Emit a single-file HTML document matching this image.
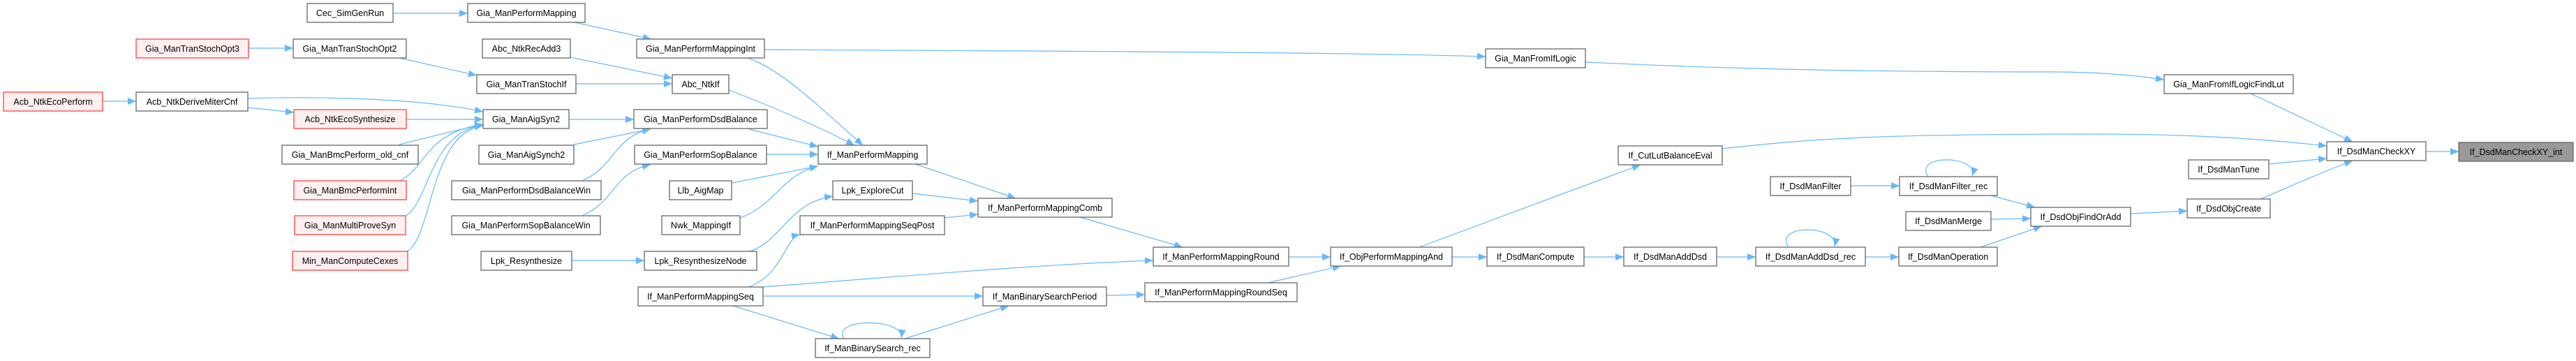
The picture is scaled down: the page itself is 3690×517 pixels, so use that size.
<!DOCTYPE html>
<html><head><meta charset="utf-8"><style>
html,body{margin:0;padding:0;background:#fff;}
svg{display:block;}
text{font-family:"Liberation Sans",Arial,sans-serif;font-size:12.5px;fill:#000;}
.n{fill:#fff;stroke:#666;stroke-width:1.3;}
.r{fill:#fff0f0;stroke:#ff4040;stroke-width:1.3;}
.g{fill:#999;stroke:#666;stroke-width:1.3;}
.e{fill:none;stroke:#63b8ff;stroke-width:1.2;marker-end:url(#a);}
</style></head><body>
<svg width="3690" height="517" viewBox="0 0 3690 517" xmlns="http://www.w3.org/2000/svg">
<defs><marker id="a" markerUnits="userSpaceOnUse" markerWidth="12" markerHeight="10" refX="12" refY="5" orient="auto"><path d="M0,0 L12,5 L0,10 z" fill="#63b8ff"/></marker></defs>
<g>
<path class="e" d="M563,19 L670,19"/>
<path class="e" d="M356,69 L420,69"/>
<path class="e" d="M572,83 L683,108"/>
<path class="e" d="M147,145 L195,145"/>
<path class="e" d="M355,154 L421,161"/>
<path class="e" d="M355,141 C450,138 600,140 692,160"/>
<path class="e" d="M582,171 L692,171"/>
<path class="e" d="M572,207 C620,195 660,185 692,178"/>
<path class="e" d="M574,258 C610,240 610,190 692,178"/>
<path class="e" d="M581,309 C615,290 615,190 692,179"/>
<path class="e" d="M583,360 C620,340 615,190 692,180"/>
<path class="e" d="M823,32 L933,56"/>
<path class="e" d="M817,82 L963,112"/>
<path class="e" d="M825,120 L963,120"/>
<path class="e" d="M815,171 L908,171"/>
<path class="e" d="M822,207 L932,185"/>
<path class="e" d="M835,258 C880,240 880,195 932,185"/>
<path class="e" d="M835,308 C880,290 880,245 932,236"/>
<path class="e" d="M1071,83 C1120,100 1170,150 1236,208"/>
<path class="e" d="M1095,71 C1400,73 1900,74 2128,81"/>
<path class="e" d="M1044,129 C1100,150 1170,180 1224,208"/>
<path class="e" d="M1073,185 L1172,210"/>
<path class="e" d="M1098,221 L1172,221"/>
<path class="e" d="M1048,262 L1172,238"/>
<path class="e" d="M1060,312 C1110,295 1120,250 1172,238"/>
<path class="e" d="M1074,360 C1120,345 1130,290 1193,281"/>
<path class="e" d="M819,373 L923,373"/>
<path class="e" d="M1072,411 C1120,395 1125,340 1146,336"/>
<path class="e" d="M1093,411 C1300,395 1500,378 1652,373"/>
<path class="e" d="M1093,424 L1408,424"/>
<path class="e" d="M1050,438 L1202,485"/>
<path class="e" d="M1209,485 C1190,455 1295,455 1291,484"/>
<path class="e" d="M1296,485 L1445,438"/>
<path class="e" d="M1311,235 L1455,284"/>
<path class="e" d="M1307,277 L1401,288"/>
<path class="e" d="M1353,312 L1401,307"/>
<path class="e" d="M1547,311 L1694,354"/>
<path class="e" d="M1585,423 L1640,422"/>
<path class="e" d="M1846,368 L1906,368"/>
<path class="e" d="M1816,405 L1921,381"/>
<path class="e" d="M2033,354 L2350,236"/>
<path class="e" d="M2080,368 L2130,368"/>
<path class="e" d="M2269,368 L2326,368"/>
<path class="e" d="M2459,368 L2515,368"/>
<path class="e" d="M2562,354 C2540,320 2635,322 2628,353"/>
<path class="e" d="M2672,368 L2720,368"/>
<path class="e" d="M2837,354 L2925,324"/>
<path class="e" d="M2852,314 L2909,313"/>
<path class="e" d="M2651,266 L2721,266"/>
<path class="e" d="M2762,253 C2740,220 2835,222 2825,252"/>
<path class="e" d="M2852,280 L2915,297"/>
<path class="e" d="M3052,306 L3133,302"/>
<path class="e" d="M3238,285 C3270,272 3300,257 3370,230"/>
<path class="e" d="M3250,235 L3333,227"/>
<path class="e" d="M2467,213 C2600,198 2700,192 3000,192 C3150,192 3250,200 3333,209"/>
<path class="e" d="M3224,134 L3370,203"/>
<path class="e" d="M2271,89 C2500,100 2700,103 2950,103 C3030,104 3070,110 3100,114"/>
<path class="e" d="M3475,217 L3522,217"/>
</g>
<g text-anchor="middle">
<rect class="n" x="440" y="5" width="123" height="27"/><text x="501.5" y="23">Cec_SimGenRun</text>
<rect class="r" x="195" y="56" width="161" height="27"/><text x="275.5" y="74">Gia_ManTranStochOpt3</text>
<rect class="n" x="420" y="56" width="162" height="27"/><text x="501" y="74">Gia_ManTranStochOpt2</text>
<rect class="r" x="5" y="132" width="142" height="27"/><text x="76" y="150">Acb_NtkEcoPerform</text>
<rect class="n" x="195" y="132" width="160" height="27"/><text x="275" y="150">Acb_NtkDeriveMiterCnf</text>
<rect class="r" x="421" y="157" width="161" height="27"/><text x="501.5" y="175">Acb_NtkEcoSynthesize</text>
<rect class="n" x="404" y="208" width="195" height="27"/><text x="501.5" y="226">Gia_ManBmcPerform_old_cnf</text>
<rect class="r" x="421" y="259" width="161" height="27"/><text x="501.5" y="277">Gia_ManBmcPerformInt</text>
<rect class="r" x="422" y="309" width="159" height="27"/><text x="501.5" y="327">Gia_ManMultiProveSyn</text>
<rect class="r" x="419" y="360" width="165" height="27"/><text x="501.5" y="378">Min_ManComputeCexes</text>

<rect class="n" x="670" y="5" width="168" height="27"/><text x="754" y="23">Gia_ManPerformMapping</text>
<rect class="n" x="691" y="56" width="126" height="27"/><text x="754" y="74">Abc_NtkRecAdd3</text>
<rect class="n" x="683" y="107" width="142" height="27"/><text x="754" y="125">Gia_ManTranStochIf</text>
<rect class="n" x="692" y="157" width="123" height="27"/><text x="753.5" y="175">Gia_ManAigSyn2</text>
<rect class="n" x="686" y="208" width="136" height="27"/><text x="754" y="226">Gia_ManAigSynch2</text>
<rect class="n" x="647" y="259" width="214" height="27"/><text x="754" y="277">Gia_ManPerformDsdBalanceWin</text>
<rect class="n" x="647" y="309" width="213" height="27"/><text x="753.5" y="327">Gia_ManPerformSopBalanceWin</text>
<rect class="n" x="689" y="360" width="130" height="27"/><text x="754" y="378">Lpk_Resynthesize</text>

<rect class="n" x="912" y="56" width="183" height="27"/><text x="1003.5" y="74">Gia_ManPerformMappingInt</text>
<rect class="n" x="963" y="107" width="81" height="27"/><text x="1003.5" y="125">Abc_NtkIf</text>
<rect class="n" x="908" y="157" width="191" height="27"/><text x="1003.5" y="175">Gia_ManPerformDsdBalance</text>
<rect class="n" x="909" y="208" width="189" height="27"/><text x="1003.5" y="226">Gia_ManPerformSopBalance</text>
<rect class="n" x="959" y="259" width="89" height="27"/><text x="1003.5" y="277">Llb_AigMap</text>
<rect class="n" x="948" y="309" width="112" height="27"/><text x="1004" y="327">Nwk_MappingIf</text>
<rect class="n" x="923" y="360" width="161" height="27"/><text x="1003.5" y="378">Lpk_ResynthesizeNode</text>
<rect class="n" x="914" y="411" width="179" height="27"/><text x="1003.5" y="429">If_ManPerformMappingSeq</text>

<rect class="n" x="1172" y="208" width="156" height="27"/><text x="1250" y="226">If_ManPerformMapping</text>
<rect class="n" x="1193" y="259" width="114" height="27"/><text x="1250" y="277">Lpk_ExploreCut</text>
<rect class="n" x="1146" y="309" width="207" height="27"/><text x="1249.5" y="327">If_ManPerformMappingSeqPost</text>
<rect class="n" x="1168" y="485" width="164" height="27"/><text x="1250" y="503">If_ManBinarySearch_rec</text>

<rect class="n" x="1401" y="284" width="192" height="27"/><text x="1497" y="302">If_ManPerformMappingComb</text>
<rect class="n" x="1408" y="411" width="177" height="27"/><text x="1496.5" y="429">If_ManBinarySearchPeriod</text>
<rect class="n" x="1652" y="354" width="194" height="27"/><text x="1749" y="372">If_ManPerformMappingRound</text>
<rect class="n" x="1640" y="405" width="218" height="27"/><text x="1749" y="423">If_ManPerformMappingRoundSeq</text>

<rect class="n" x="1906" y="354" width="174" height="27"/><text x="1993" y="372">If_ObjPerformMappingAnd</text>
<rect class="n" x="2128" y="70" width="143" height="27"/><text x="2199.5" y="88">Gia_ManFromIfLogic</text>
<rect class="n" x="2130" y="354" width="139" height="27"/><text x="2199.5" y="372">If_DsdManCompute</text>
<rect class="n" x="2318" y="209" width="149" height="27"/><text x="2392.5" y="227">If_CutLutBalanceEval</text>
<rect class="n" x="2326" y="354" width="133" height="27"/><text x="2392.5" y="372">If_DsdManAddDsd</text>

<rect class="n" x="2536" y="253" width="115" height="27"/><text x="2593.5" y="271">If_DsdManFilter</text>
<rect class="n" x="2515" y="354" width="157" height="27"/><text x="2593.5" y="372">If_DsdManAddDsd_rec</text>
<rect class="n" x="2721" y="253" width="140" height="27"/><text x="2791" y="271">If_DsdManFilter_rec</text>
<rect class="n" x="2730" y="303" width="122" height="27"/><text x="2791" y="321">If_DsdManMerge</text>
<rect class="n" x="2720" y="354" width="141" height="27"/><text x="2790.5" y="372">If_DsdManOperation</text>
<rect class="n" x="2909" y="297" width="143" height="27"/><text x="2980.5" y="315">If_DsdObjFindOrAdd</text>

<rect class="n" x="3100" y="107" width="185" height="27"/><text x="3192.5" y="125">Gia_ManFromIfLogicFindLut</text>
<rect class="n" x="3135" y="229" width="115" height="27"/><text x="3192.5" y="247">If_DsdManTune</text>
<rect class="n" x="3133" y="285" width="119" height="27"/><text x="3192.5" y="303">If_DsdObjCreate</text>
<rect class="n" x="3333" y="203" width="142" height="27"/><text x="3404" y="221">If_DsdManCheckXY</text>
<rect class="g" x="3522" y="204" width="164" height="27"/><text x="3604" y="222">If_DsdManCheckXY_int</text>
</g>
</svg>
</body></html>
